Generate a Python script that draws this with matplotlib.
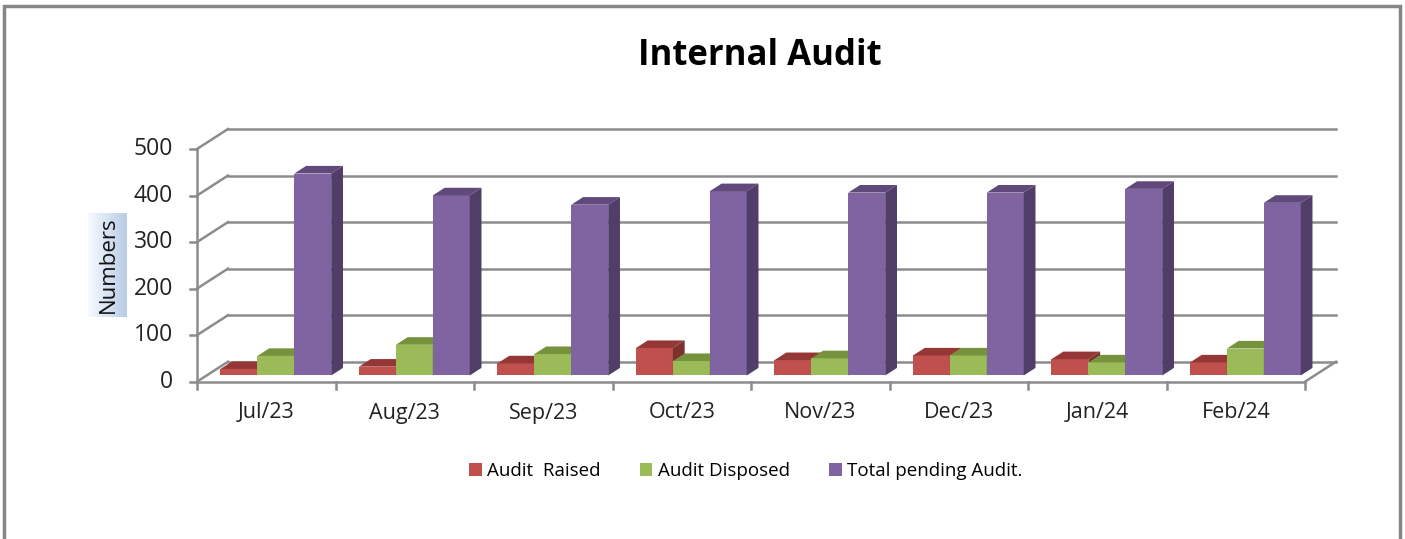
import matplotlib.pyplot as plt
import numpy as np
from matplotlib.patches import Polygon, Patch, Rectangle

months = ['Jul/23', 'Aug/23', 'Sep/23', 'Oct/23', 'Nov/23', 'Dec/23', 'Jan/24', 'Feb/24']
audit_raised = [14, 19, 26, 59, 33, 43, 35, 28]
audit_disposed = [42, 66, 46, 31, 37, 43, 28, 58]
total_pending = [434, 387, 367, 396, 393, 393, 401, 371]
series_names = ['Audit  Raised', 'Audit Disposed', 'Total pending Audit.']
yticks = [0, 100, 200, 300, 400, 500]

front_colors = ['#C0504D', '#9BBB59', '#8064A2']
top_colors = ['#953735', '#76923C', '#604A7B']
side_colors = ['#7E302E', '#637C33', '#503E68']
grid_color = '#8C8C8C'

plt.rcParams['font.family'] = ['Open Sans', 'DejaVu Sans']

W, H = 1405, 539
# pixel layout of the plot box
X0_PX, CAT_PX = 197, 138.5      # left of front axis, width of one category
Y0_PX, VAL_PX = 381.7, 0.4654   # front floor line, pixels per unit
DX, DY = 0.224, 43.0            # full depth offset (category units, value units)
D0, D1 = 0.31, 0.69             # depth range occupied by bars
BAR_W = 0.2665

fig = plt.figure(figsize=(W / 100, H / 100), dpi=100)
ax = fig.add_axes([0, 0, 1, 1])
ax.set_xlim(-X0_PX / CAT_PX, (W - X0_PX) / CAT_PX)
ax.set_ylim((Y0_PX - H) / VAL_PX, Y0_PX / VAL_PX)
ax.axis('off')


def px(x, y):
    # pixel -> data coordinates
    return (x - X0_PX) / CAT_PX, (Y0_PX - y) / VAL_PX


n = len(months)

# walls and gridlines
for v in yticks:
    ax.plot([0, DX], [v, v + DY], color=grid_color, lw=1.8, zorder=1)
    ax.plot([DX, n + DX], [v + DY, v + DY], color=grid_color, lw=1.8, zorder=1)
    ax.plot([-7 / CAT_PX, 0], [v, v], color=grid_color, lw=1.8, zorder=1)
    ax.text(-24 / CAT_PX, v, str(v), ha='right', va='center', fontsize=16.5, color='#222222')
ax.plot([0, 0], [0, yticks[-1]], color=grid_color, lw=1.8, zorder=1)
ax.plot([0, n], [0, 0], color=grid_color, lw=1.8, zorder=1)
ax.plot([n, n + DX], [0, DY], color=grid_color, lw=1.8, zorder=1)
for i in range(n + 1):
    ax.plot([i, i], [0, -7 / VAL_PX], color=grid_color, lw=1.8, zorder=1)
for i, m in enumerate(months):
    ax.text(i + 0.5, px(0, 413)[1], m, ha='center', va='center', fontsize=15.5, color='#222222')

# 3d bars
series = [audit_raised, audit_disposed, total_pending]
ox, oy = DX * D0, DY * D0
bx, by = DX * (D1 - D0), DY * (D1 - D0)
x = np.arange(n)
for k, vals in enumerate(series):
    left = x + 0.1 + k * BAR_W + ox
    z = 3 + k * 0.3
    ax.bar(left, vals, width=BAR_W, bottom=oy, align='edge', color=front_colors[k],
           linewidth=0, zorder=z)
    for xl, v in zip(left, vals):
        top = [(xl, oy + v), (xl + BAR_W, oy + v), (xl + BAR_W + bx, oy + v + by), (xl + bx, oy + v + by)]
        side = [(xl + BAR_W, oy), (xl + BAR_W, oy + v), (xl + BAR_W + bx, oy + v + by), (xl + BAR_W + bx, oy + by)]
        ax.add_patch(Polygon(top, closed=True, facecolor=top_colors[k], lw=0, zorder=z + 0.1))
        ax.add_patch(Polygon(side, closed=True, facecolor=side_colors[k], lw=0, zorder=z + 0.2))

# axis title with gradient box
x1, y1 = px(88, 317)
x2, y2 = px(127, 213)
grad = np.linspace(0, 1, 64)
c0, c1 = np.array([0.97, 0.98, 1.0]), np.array([0.72, 0.80, 0.90])
img = (c0[None, :] + (c1 - c0)[None, :] * grad[:, None])[None, :, :]
ax.imshow(img, extent=[x1, x2, y1, y2], aspect='auto', zorder=2)
lx, ly = px(108, 265)
ax.text(lx, ly, 'Numbers', rotation=90, ha='center', va='center', fontsize=16, color='#111111', zorder=3)

# title
fig.text(760 / W, 1 - 56 / H, 'Internal Audit', ha='center', va='center', fontsize=25,
         fontweight='bold')

# legend
handles = [Patch(facecolor=c, edgecolor='none') for c in front_colors]
fig.legend(handles, series_names, loc='center', bbox_to_anchor=(746 / W, 1 - 471 / H), ncol=3,
           frameon=False, fontsize=13.5, handlelength=0.65, handleheight=0.65, handletextpad=0.3,
           columnspacing=2.1)

# outer frame
fig.patches.append(Rectangle((4 / W, -0.1), (1400 - 4) / W, 1.1 - 6 / H, transform=fig.transFigure,
                             fill=False, edgecolor='#868686', lw=2.5))

fig.savefig('out.png', dpi=100)
